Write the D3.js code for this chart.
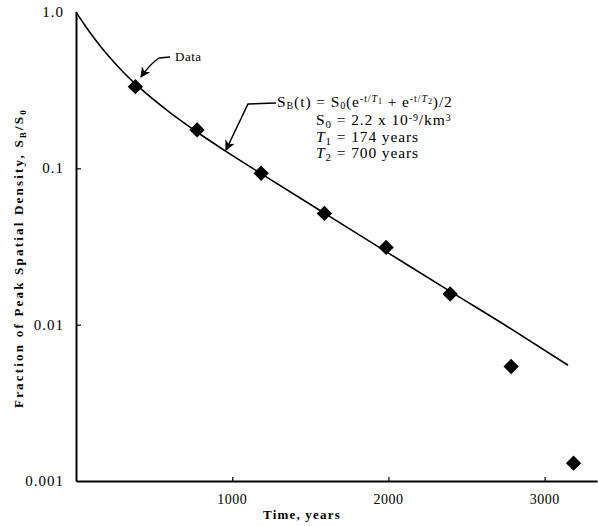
<!DOCTYPE html>
<html>
<head>
<meta charset="utf-8">
<script src="https://cdn.jsdelivr.net/npm/d3@7"></script>
<style>
    body { margin: 0; background: #fff; }
    text { font-family: "Liberation Serif", "Times New Roman", serif; fill: #000; }
</style>
</head>
<body>
<div id="chart"></div>
<script>
// measured points (time in years, fraction of peak density)
const dataTimes = [380, 775, 1185, 1590, 1985, 2395, 2785, 3185]
const dataValues = [0.333, 0.176, 0.093, 0.0515, 0.0312, 0.0157, 0.0054, 0.0013]

// fitted curve
const fitTimes = [0, 50, 100, 150, 200, 300, 400, 600, 800, 1000, 1200, 1600, 2000, 2400, 2800, 3150]
const fitValues = [1.0, 0.841, 0.715, 0.615, 0.534, 0.415, 0.333, 0.228, 0.164, 0.121, 0.0905, 0.0509, 0.0287, 0.0162, 0.0092, 0.0055]

const xTicks = [1000, 2000, 3000]
const yTicks = [1, 0.1, 0.01, 0.001]
const yTickLabels = ["1.0", "0.1", "0.01", "0.001"]

function plotChart() {

    const dimensions = {
        width: 598,
        height: 526,
        margins: { top: 12, right: 1, bottom: 46, left: 76 }
    }
    dimensions.boundedWidth = dimensions.width - dimensions.margins.left - dimensions.margins.right
    dimensions.boundedHeight = dimensions.height - dimensions.margins.top - dimensions.margins.bottom

    const wrapper = d3.select("#chart").append("svg")
        .attr("width", dimensions.width)
        .attr("height", dimensions.height)

    const bounds = wrapper.append("g")
        .attr("transform", `translate(${dimensions.margins.left}, ${dimensions.margins.top})`)

    // scales
    const xScale = d3.scaleLinear()
        .domain([0, 3335])
        .range([0, dimensions.boundedWidth])

    const yScale = d3.scaleLog()
        .domain([0.001, 1])
        .range([dimensions.boundedHeight + 1, 0])

    // axes (ticks point inward)
    const xAxisGenerator = d3.axisTop(xScale)
        .tickValues(xTicks)
        .tickSize(4)
        .tickSizeOuter(0)
        .tickFormat("")

    const xAxis = bounds.append("g")
        .attr("transform", `translate(0, ${yScale(0.001)})`)
        .call(xAxisGenerator)
    xAxis.select(".domain").attr("stroke-width", 2)
    xAxis.selectAll(".tick line").attr("stroke-width", 1.2)

    bounds.selectAll(".x-label")
        .data(xTicks)
        .enter().append("text")
        .attr("class", "x-label")
        .attr("x", d => xScale(d))
        .attr("y", yScale(0.001) + 23)
        .attr("text-anchor", "middle")
        .attr("font-size", "14px")
        .attr("letter-spacing", "0.5px")
        .text(d => d)

    const yAxisGenerator = d3.axisRight(yScale)
        .tickValues([0.1, 0.01])
        .tickSize(5)
        .tickSizeOuter(0)
        .tickFormat("")

    const yAxis = bounds.append("g")
        .call(yAxisGenerator)
    yAxis.select(".domain").attr("stroke-width", 2)
    yAxis.selectAll(".tick line").attr("stroke-width", 1.2)

    bounds.selectAll(".y-label")
        .data(yTicks)
        .enter().append("text")
        .attr("class", "y-label")
        .attr("x", -12)
        .attr("y", d => yScale(d) + 5)
        .attr("text-anchor", "end")
        .attr("font-size", "15px")
        .attr("letter-spacing", "1px")
        .text((d, i) => yTickLabels[i])

    // axis titles
    wrapper.append("text")
        .attr("x", 302)
        .attr("y", 519)
        .attr("text-anchor", "middle")
        .attr("font-size", "13px")
        .attr("font-weight", "bold")
        .attr("letter-spacing", "1.2px")
        .text("Time,  years")

    const yTitle = wrapper.append("text")
        .attr("transform", "translate(23, 258) rotate(-90)")
        .attr("text-anchor", "middle")
        .attr("font-size", "13px")
        .attr("font-weight", "bold")
        .attr("letter-spacing", "2.2px")
    yTitle.append("tspan").text("Fraction of Peak Spatial Density,  S")
    yTitle.append("tspan").attr("dy", 3).attr("font-size", "9px").text("B")
    yTitle.append("tspan").attr("dy", -3).text("/S")
    yTitle.append("tspan").attr("dy", 3).attr("font-size", "9px").text("0")

    // fitted curve
    const line = d3.line()
        .x((d, i) => xScale(fitTimes[i]))
        .y(d => yScale(d))
        .curve(d3.curveMonotoneX)

    bounds.append("path")
        .datum(fitValues)
        .attr("fill", "none")
        .attr("stroke", "#000")
        .attr("stroke-width", 1.6)
        .attr("d", line)

    // data diamonds
    bounds.selectAll(".pt")
        .data(dataValues)
        .enter().append("path")
        .attr("class", "pt")
        .attr("d", d3.symbol().type(d3.symbolDiamond2).size(150))
        .attr("transform", (d, i) => `translate(${xScale(dataTimes[i])}, ${yScale(d)})`)
        .attr("fill", "#000")

    // annotations
    const defs = wrapper.append("defs")
    defs.append("marker")
        .attr("id", "head")
        .attr("viewBox", "0 0 10 10")
        .attr("refX", 9)
        .attr("refY", 5)
        .attr("markerWidth", 7)
        .attr("markerHeight", 7)
        .attr("orient", "auto")
        .append("path")
        .attr("d", "M0,0 L10,5 L0,10 L3,5 Z")
        .attr("fill", "#000")

    wrapper.append("path")
        .attr("d", "M170,57 L159,58 Q150,64 141,77")
        .attr("fill", "none")
        .attr("stroke", "#000")
        .attr("stroke-width", 1.5)
        .attr("marker-end", "url(#head)")

    wrapper.append("text")
        .attr("x", 175)
        .attr("y", 61)
        .attr("font-size", "13px")
        .attr("letter-spacing", "0.5px")
        .text("Data")

    wrapper.append("path")
        .attr("d", "M276,103 L248,104 L226,150")
        .attr("fill", "none")
        .attr("stroke", "#000")
        .attr("stroke-width", 1.5)
        .attr("marker-end", "url(#head)")

    const fs = "15.5px"
    const ls = "0.9px"

    const f1 = wrapper.append("text")
        .attr("x", 277)
        .attr("y", 107)
        .attr("font-size", fs)
        .attr("letter-spacing", ls)
    f1.append("tspan").text("S")
    f1.append("tspan").attr("dy", 2).attr("font-size", "10px").text("B")
    f1.append("tspan").attr("dy", -2).text("(t) = S")
    f1.append("tspan").attr("dy", 2).attr("font-size", "10px").text("0")
    f1.append("tspan").attr("dy", -2).text("(e")
    f1.append("tspan").attr("dy", -5).attr("font-size", "10px").text("-t/")
    f1.append("tspan").attr("font-size", "10px").attr("font-style", "italic").text("T")
    f1.append("tspan").attr("dy", 2).attr("font-size", "8px").text("1")
    f1.append("tspan").attr("dy", 3).text(" + e")
    f1.append("tspan").attr("dy", -5).attr("font-size", "10px").text("-t/")
    f1.append("tspan").attr("font-size", "10px").attr("font-style", "italic").text("T")
    f1.append("tspan").attr("dy", 2).attr("font-size", "8px").text("2")
    f1.append("tspan").attr("dy", 3).text(")/2")

    const f2 = wrapper.append("text")
        .attr("x", 316)
        .attr("y", 125)
        .attr("font-size", fs)
        .attr("letter-spacing", ls)
    f2.append("tspan").text("S")
    f2.append("tspan").attr("dy", 3).attr("font-size", "11px").text("0")
    f2.append("tspan").attr("dy", -3).text(" = 2.2 x 10")
    f2.append("tspan").attr("dy", -4).attr("font-size", "10px").text("-9")
    f2.append("tspan").attr("dy", 4).text("/km")
    f2.append("tspan").attr("dy", -4).attr("font-size", "10px").text("3")

    const f3 = wrapper.append("text")
        .attr("x", 316)
        .attr("y", 142)
        .attr("font-size", fs)
        .attr("letter-spacing", ls)
    f3.append("tspan").attr("font-style", "italic").text("T")
    f3.append("tspan").attr("dy", 3).attr("font-size", "11px").text("1")
    f3.append("tspan").attr("dy", -3).text(" = 174 years")

    const f4 = wrapper.append("text")
        .attr("x", 316)
        .attr("y", 158)
        .attr("font-size", fs)
        .attr("letter-spacing", ls)
    f4.append("tspan").attr("font-style", "italic").text("T")
    f4.append("tspan").attr("dy", 3).attr("font-size", "11px").text("2")
    f4.append("tspan").attr("dy", -3).text(" = 700 years")
}

plotChart()
</script>
</body>
</html>
